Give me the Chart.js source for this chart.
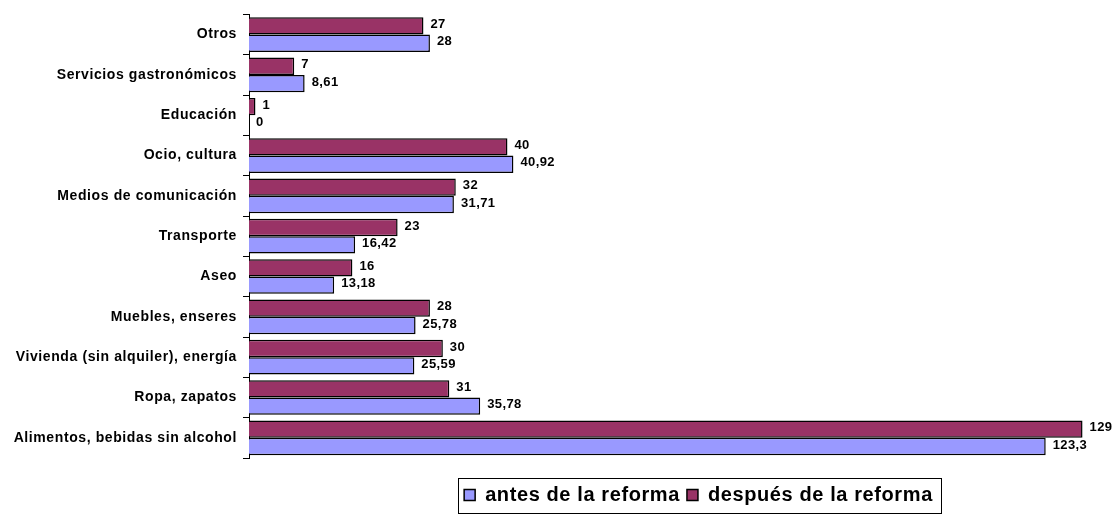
<!DOCTYPE html>
<html lang="es">
<head>
    <meta charset="UTF-8">
    <title>Gastos antes y después de la reforma</title>
    <script src="https://cdn.jsdelivr.net/npm/chart.js"></script>
    <style>
        html, body {
            margin: 0;
            padding: 0;
            background: #ffffff;
        }
        .wrap {
            width: 1114px;
            height: 516px;
            position: relative;
        }
    </style>
</head>
<body>
    <div class="wrap">
        <canvas id="gastosChart"></canvas>
    </div>

    <script>
        // categories top to bottom
        const categorias = [
            'Otros',
            'Servicios gastronómicos',
            'Educación',
            'Ocio, cultura',
            'Medios de comunicación',
            'Transporte',
            'Aseo',
            'Muebles, enseres',
            'Vivienda (sin alquiler), energía',
            'Ropa, zapatos',
            'Alimentos, bebidas sin alcohol'
        ];
        const antes = [28, 8.61, 0, 40.92, 31.71, 16.42, 13.18, 25.78, 25.59, 35.78, 123.3];
        const despues = [27, 7, 1, 40, 32, 23, 16, 28, 30, 31, 129];
        const ejeMin = 0;
        const ejeMax = 130;

        const fontFam = '"Liberation Sans", Arial, sans-serif';

        // the old excel look has loose letter spacing
        const spacing = {
            id: 'spacing',
            beforeUpdate(chart) { chart.ctx.letterSpacing = '0.6px'; },
            beforeDraw(chart) { chart.ctx.letterSpacing = '0.6px'; }
        };

        // value labels at the end of every bar (comma decimals)
        const valueLabels = {
            id: 'valueLabels',
            afterDatasetsDraw(chart) {
                const ctx = chart.ctx;
                ctx.save();
                ctx.font = 'bold 13px ' + fontFam;
                ctx.letterSpacing = '0.4px';
                ctx.fillStyle = '#000';
                ctx.textAlign = 'left';
                ctx.textBaseline = 'middle';
                chart.data.datasets.forEach((ds, i) => {
                    const meta = chart.getDatasetMeta(i);
                    meta.data.forEach((bar, j) => {
                        const txt = String(ds.data[j]).replace('.', ',');
                        ctx.fillText(txt, bar.x + 7, bar.y - 1.5);
                    });
                });
                ctx.restore();
            }
        };

        // move legend to where the original sits and frame it
        const legendFrame = {
            id: 'legendFrame',
            afterLayout(chart) {
                const lg = chart.legend;
                lg.left += 154;
                lg.right += 154;
                lg.top += 20;
                lg.bottom += 20;
            },
            afterDraw(chart) {
                const boxes = chart.legend.legendHitBoxes;
                if (!boxes || !boxes.length) return;
                const first = boxes[0];
                const last = boxes[boxes.length - 1];
                const mid = first.top + first.height / 2;
                const ctx = chart.ctx;
                ctx.save();
                ctx.strokeStyle = '#000';
                ctx.lineWidth = 1;
                const x0 = Math.round(first.left) - 5.5;
                const x1 = Math.round(last.left + last.width) + 8.5;
                const y0 = Math.round(mid - 17) + 0.5;
                ctx.strokeRect(x0, y0, x1 - x0, 35);
                ctx.restore();
            }
        };

        const ctx = document.getElementById('gastosChart').getContext('2d');
        new Chart(ctx, {
            type: 'bar',
            data: {
                labels: categorias,
                datasets: [
                    {
                        label: 'después de la reforma',
                        data: despues,
                        backgroundColor: '#993366',
                        borderColor: '#000000',
                        borderWidth: 1.5
                    },
                    {
                        label: 'antes de la reforma',
                        data: antes,
                        backgroundColor: '#9999FF',
                        borderColor: '#000000',
                        borderWidth: 1.5
                    }
                ]
            },
            options: {
                indexAxis: 'y',
                responsive: true,
                maintainAspectRatio: false,
                animation: false,
                categoryPercentage: 0.86,
                barPercentage: 1.0,
                layout: {
                    padding: { top: 9, right: 25, bottom: 21, left: 0 }
                },
                scales: {
                    x: {
                        display: false,
                        min: ejeMin,
                        max: ejeMax
                    },
                    y: {
                        afterFit(scale) { scale.width = 249; },
                        border: { display: true, color: '#000', width: 1 },
                        grid: {
                            drawOnChartArea: false,
                            color: '#000',
                            tickLength: 6
                        },
                        ticks: {
                            color: '#000',
                            padding: 6,
                            font: { family: fontFam, size: 14, weight: 'bold' }
                        }
                    }
                },
                plugins: {
                    tooltip: { enabled: false },
                    legend: {
                        position: 'bottom',
                        reverse: true,
                        labels: {
                            color: '#000',
                            boxWidth: 11,
                            boxHeight: 11,
                            padding: 7,
                            font: { family: fontFam, size: 20, weight: 'bold' }
                        }
                    }
                }
            },
            plugins: [spacing, valueLabels, legendFrame]
        });
    </script>
</body>
</html>
